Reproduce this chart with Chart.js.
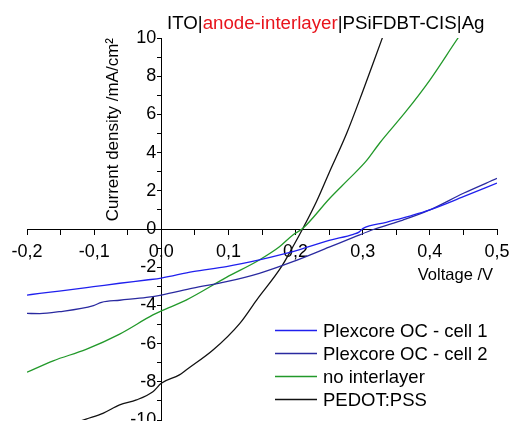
<!DOCTYPE html>
<html>
<head>
<meta charset="utf-8">
<script src="https://cdn.jsdelivr.net/npm/chart.js@4"></script>
<style>
  body { margin: 0; background: #fff; }
  canvas { display: block; }
</style>
</head>
<body>
<canvas id="ivChart" width="512" height="421"></canvas>
<script>
// J-V curves: voltage in V, current density in mA/cm2
const cell1V = [-0.2, -0.181, -0.152, -0.101, -0.062, -0.022, 0.0, 0.047, 0.097, 0.146, 0.196, 0.25, 0.286, 0.295, 0.30, 0.335, 0.37, 0.40, 0.45, 0.5];
const cell1J = [-3.46, -3.37, -3.25, -3.02, -2.84, -2.67, -2.57, -2.23, -1.97, -1.62, -1.19, -0.6, -0.28, -0.15, 0.02, 0.35, 0.68, 1.0, 1.69, 2.4];

const cell2V = [-0.2, -0.181, -0.152, -0.101, -0.089, -0.062, -0.022, 0.0, 0.047, 0.097, 0.146, 0.196, 0.25, 0.286, 0.318, 0.36, 0.40, 0.45, 0.5];
const cell2J = [-4.42, -4.43, -4.33, -4.01, -3.84, -3.73, -3.58, -3.46, -3.1, -2.76, -2.32, -1.71, -0.95, -0.44, 0.0, 0.47, 1.0, 1.87, 2.65];

const noLayerV = [-0.2, -0.161, -0.112, -0.062, -0.0125, 0.0, 0.037, 0.097, 0.146, 0.176, 0.196, 0.211, 0.251, 0.278, 0.305, 0.325, 0.365, 0.40, 0.442, 0.46];
const noLayerJ = [-7.5, -6.9, -6.3, -5.5, -4.5, -4.29, -3.72, -2.53, -1.62, -0.93, -0.31, 0.04, 1.61, 2.57, 3.55, 4.49, 6.18, 7.8, 10.0, 10.9];

const pedotV = [-0.14, -0.112, -0.087, -0.062, -0.037, -0.0125, 0.0, 0.027, 0.037, 0.077, 0.117, 0.142, 0.179, 0.196, 0.211, 0.231, 0.25, 0.276, 0.30, 0.329, 0.34];
const pedotJ = [-10.3, -9.95, -9.65, -9.21, -8.95, -8.52, -8.08, -7.64, -7.38, -6.34, -4.94, -3.72, -1.97, -0.93, 0.04, 1.43, 2.95, 5.0, 7.2, 9.98, 11.0];

const seriesLabels = ['Plexcore OC - cell 1', 'Plexcore OC - cell 2', 'no interlayer', 'PEDOT:PSS'];
const seriesColors = ['#2020ee', '#2a2aa0', '#22992a', '#111111'];

const titleParts = [['ITO|', '#000000'], ['anode-interlayer', '#e8141c'], ['|PSiFDBT-CIS|Ag', '#000000']];
const xTitle = 'Voltage /V';
const yTitle = 'Current density /mA/cm\u00b2';

const FONT = "'Liberation Sans', Arial, sans-serif";

function toPoints(vs, js) {
    return vs.map((v, i) => ({ x: v, y: js[i] }));
}

// axes sit inside the plot, so they must not eat layout space
function noSpace(scale) {
    if (scale.isHorizontal()) scale.height = 0;
    else scale.width = 0;
    scale.paddingTop = 0;
    scale.paddingBottom = 0;
    scale.paddingLeft = 0;
    scale.paddingRight = 0;
}

// title, axis titles and legend drawn by hand so they land where the original puts them
const decorations = {
    id: 'decorations',
    afterDraw(chart) {
        const c = chart.ctx;
        c.save();

        c.font = '18.7px ' + FONT;
        c.textAlign = 'left';
        c.textBaseline = 'alphabetic';
        let x = 167;
        titleParts.forEach(([text, color]) => {
            c.fillStyle = color;
            c.fillText(text, x, 29);
            x += c.measureText(text).width;
        });

        c.fillStyle = '#000';
        c.font = '16.5px ' + FONT;
        c.textAlign = 'right';
        c.textBaseline = 'middle';
        c.fillText(xTitle, 493, 275);

        c.save();
        c.translate(117.5, 38);
        c.rotate(-Math.PI / 2);
        c.font = '17px ' + FONT;
        c.textAlign = 'right';
        c.textBaseline = 'alphabetic';
        c.fillText(yTitle, 0, 0);
        c.restore();

        // legend
        c.font = '18.5px ' + FONT;
        c.textAlign = 'left';
        c.textBaseline = 'middle';
        chart.data.datasets.forEach((ds, i) => {
            const y = 330.5 + i * 23;
            c.strokeStyle = ds.borderColor;
            c.lineWidth = 1.5;
            c.beginPath();
            c.moveTo(275, y);
            c.lineTo(317, y);
            c.stroke();
            c.fillStyle = '#000';
            c.fillText(ds.label, 323, y + 1);
        });

        c.restore();
    }
};

const allV = [cell1V, cell2V, noLayerV, pedotV];
const allJ = [cell1J, cell2J, noLayerJ, pedotJ];

new Chart(document.getElementById('ivChart'), {
    type: 'line',
    data: {
        datasets: seriesLabels.map((label, i) => ({
            label: label,
            data: toPoints(allV[i], allJ[i]),
            borderColor: seriesColors[i],
            backgroundColor: seriesColors[i],
            fill: false,
        }))
    },
    options: {
        responsive: false,
        animation: false,
        layout: { padding: { left: 27, right: 15, top: 38, bottom: 1 } },
        elements: {
            point: { radius: 0 },
            line: { borderWidth: 1.3, cubicInterpolationMode: 'monotone' }
        },
        plugins: {
            legend: { display: false },
            title: { display: false },
            tooltip: { enabled: false }
        },
        scales: {
            x: {
                type: 'linear',
                min: -0.2,
                max: 0.5,
                position: { y: 0 },
                afterFit: noSpace,
                grid: { drawOnChartArea: false, color: '#000', tickLength: 5 },
                border: { color: '#000', width: 1 },
                ticks: {
                    stepSize: 0.05,
                    autoSkip: false,
                    maxRotation: 0,
                    padding: 7,
                    color: '#000',
                    font: { family: FONT, size: 18 },
                    callback: value => {
                        const n = Math.round(value * 100);
                        if (n % 10 !== 0) return '';
                        return (n / 100).toFixed(1).replace('.', ',');
                    }
                }
            },
            y: {
                type: 'linear',
                min: -10,
                max: 10,
                position: { x: 0 },
                afterFit: noSpace,
                grid: { drawOnChartArea: false, color: '#000', tickLength: 4 },
                border: { color: '#000', width: 1 },
                ticks: {
                    stepSize: 1,
                    autoSkip: false,
                    color: '#000',
                    font: { family: FONT, size: 18 },
                    // labels are right-aligned on the axis line; the trailing space keeps a gap
                    callback: value => (Math.round(value) % 2 === 0 ? String(Math.round(value)) + ' ' : '')
                }
            }
        }
    },
    plugins: [decorations]
});
</script>
</body>
</html>
